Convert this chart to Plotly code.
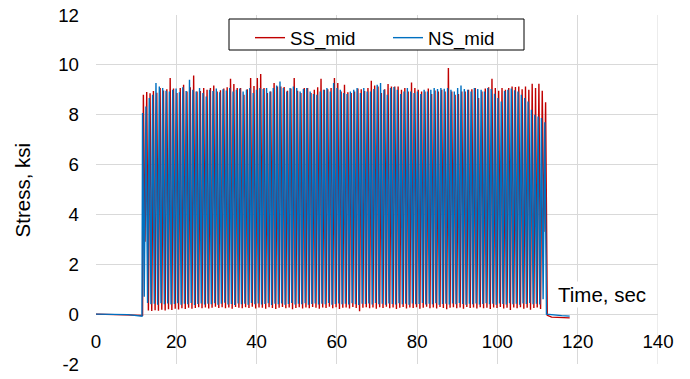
import numpy as np
import plotly.graph_objects as go

# Load-cycle record: peak and valley stress for each cycle (ksi)
period = 0.835          # s per load cycle
ss_start = 11.80        # s, first SS_mid peak
ns_start = 11.60        # s, first NS_mid peak

ss_peaks = [
    8.80, 8.91, 8.86, 8.95, 8.88, 9.07, 8.97, 9.02, 9.47, 9.05,
    8.87, 9.07, 9.20, 8.93, 9.10, 9.57, 8.93, 8.95, 9.07, 9.00,
    9.07, 9.17, 8.93, 8.98, 9.05, 9.10, 9.44, 9.23, 9.07, 9.07,
    8.80, 9.02, 9.47, 9.15, 9.47, 9.63, 9.07, 8.87, 8.93, 9.27,
    9.13, 9.13, 9.11, 8.96, 9.05, 9.47, 8.96, 8.87, 9.07, 9.07,
    8.87, 9.00, 9.10, 9.44, 9.00, 9.02, 9.07, 9.47, 9.27, 8.93,
    9.20, 8.90, 8.87, 8.93, 9.05, 9.02, 8.95, 9.07, 9.36, 9.17,
    9.13, 8.87, 9.02, 9.23, 9.13, 9.13, 9.13, 9.00, 9.07, 8.93,
    9.29, 9.07, 9.00, 8.93, 8.93, 9.05, 8.83, 8.97, 8.93, 9.00,
    8.93, 9.87, 8.93, 8.80, 8.83, 8.93, 8.93, 9.00, 9.02, 9.07,
    8.67, 8.93, 9.05, 9.10, 9.44, 9.07, 8.96, 9.07, 9.00, 9.07,
    9.13, 9.11, 9.13, 9.02, 9.13, 9.00, 9.24, 9.07, 9.24, 8.96,
    8.50,
]
ss_valleys = [
    2.90, 0.15, 0.13, 0.16, 0.14, 0.18, 0.15, 0.20, 0.17, 0.22,
    0.19, 0.24, 0.21, 0.26, 0.22, 0.25, 0.28, 0.24, 0.27, 0.23,
    0.26, 0.30, 0.25, 0.28, 0.24, 0.27, 0.22, 0.29, 0.26, 0.24,
    0.28, 0.25, 0.30, 0.23, 0.27, 0.26, 0.22, 0.28, 0.25, 0.21,
    0.26, 0.29, 0.24, 0.27, 0.20, 0.25, 0.28, 0.23, 0.27, 0.24,
    0.29, 0.26, 0.22, 0.27, 0.25, 0.30, 0.24, 0.28, 0.21, 0.26,
    0.27, 0.23, 0.29, 0.25, 0.12, 0.26, 0.28, 0.24, 0.27, 0.22,
    0.28, 0.25, 0.30, 0.24, 0.27, 0.21, 0.26, 0.29, 0.23, 0.27,
    0.25, 0.28, 0.22, 0.26, 0.30, 0.24, 0.27, 0.23, 0.29, 0.25,
    0.20, 0.26, 0.28, 0.24, 0.27, 0.22, 0.29, 0.25, 0.27, 0.23,
    0.28, 0.24, 0.26, 0.21, 0.27, 0.25, 0.29, 0.23, 0.26, 0.17,
    0.27, 0.24, 0.28, 0.22, 0.26, 0.18, 0.25, 0.27, 0.21, 3.30,
    -0.05,
]
ns_peaks = [
    8.07, 8.33, 8.67, 8.80, 9.27, 9.13, 9.07, 8.96, 8.93, 9.00,
    9.05, 8.90, 9.10, 8.95, 9.40, 9.00, 8.93, 9.07, 8.87, 8.73,
    9.00, 8.95, 9.05, 8.90, 9.02, 8.97, 9.07, 8.93, 9.00, 9.05,
    8.93, 9.00, 9.07, 8.87, 9.00, 9.07, 9.03, 9.07, 8.93, 9.07,
    9.17, 9.33, 9.07, 8.93, 9.07, 9.13, 9.07, 8.93, 9.03, 9.07,
    8.93, 8.83, 8.80, 8.93, 9.00, 9.07, 8.93, 9.27, 9.07, 9.00,
    8.87, 8.83, 8.93, 9.00, 9.07, 8.87, 9.07, 8.93, 8.93, 9.03,
    9.20, 9.27, 9.00, 8.80, 9.07, 9.11, 9.00, 8.83, 8.93, 9.07,
    8.93, 8.87, 8.93, 8.83, 9.00, 8.93, 9.00, 9.07, 9.03, 9.07,
    9.04, 9.07, 9.00, 8.93, 9.07, 9.17, 9.03, 9.00, 8.93, 9.07,
    9.03, 9.00, 8.93, 9.07, 9.03, 8.84, 8.67, 8.53, 8.95, 9.00,
    9.05, 8.98, 8.93, 8.80, 8.67, 8.53, 8.20, 8.00, 7.93, 7.87,
    7.70,
]
ns_valleys = [
    0.70, 0.45, 0.40, 0.42, 0.38, 0.44, 0.40, 0.43, 0.39, 0.41,
    0.44, 0.38, 0.42, 0.40, 0.45, 0.37, 0.41, 0.43, 0.39, 0.42,
    0.40, 0.44, 0.38, 0.42, 0.46, 0.39, 0.41, 0.37, 0.43, 0.40,
    0.42, 0.38, 0.45, 0.40, 0.43, 0.39, 0.41, 0.44, 0.37, 0.42,
    0.40, 0.43, 0.38, 0.41, 0.45, 0.39, 0.42, 0.40, 0.44, 0.38,
    0.41, 0.43, 0.39, 0.42, 0.40, 0.45, 0.38, 0.41, 0.43, 0.40,
    0.42, 0.39, 0.44, 0.40, 0.37, 0.42, 0.41, 0.43, 0.39, 0.45,
    0.40, 0.42, 0.38, 0.43, 0.41, 0.39, 0.44, 0.40, 0.42, 0.38,
    0.43, 0.40, 0.41, 0.45, 0.39, 0.42, 0.40, 0.44, 0.38, 0.41,
    0.42, 0.39, 0.43, 0.40, 0.45, 0.41, 0.38, 0.42, 0.40, 0.43,
    0.39, 0.41, 0.44, 0.40, 0.42, 0.38, 0.43, 0.41, 0.39, 0.44,
    0.40, 0.42, 0.38, 0.43, 0.41, 0.45, 0.40, 0.42, 0.39, 0.60,
    0.00,
]

# Quiet readings before and after loading
ss_pre_t, ss_pre_v = [0.0, 7.0, 11.6], [0.0, -0.03, -0.05]
ns_pre_t, ns_pre_v = [0.0, 8.0, 11.45], [0.0, -0.02, -0.08]
ss_post_t, ss_post_v = [113.5, 116.0, 118.0], [-0.12, -0.15, -0.15]
ns_post_t, ns_post_v = [113.5, 116.0, 118.0], [-0.03, -0.06, -0.08]

# Axis tick labels
x_ticks = [0, 20, 40, 60, 80, 100, 120, 140]
y_ticks = [-2, 0, 2, 4, 6, 8, 10, 12]
y_tick_text = ["-2", "0", "2", "4", "6", "8", "10", "12"]


def build(start, peaks, valleys, pre_t, pre_v, post_t, post_v):
    n = len(peaks)
    k = np.arange(n)
    t_cyc = np.empty(2 * n)
    v_cyc = np.empty(2 * n)
    t_cyc[0::2] = start + k * period
    t_cyc[1::2] = start + (k + 0.5) * period
    v_cyc[0::2] = peaks
    v_cyc[1::2] = valleys
    t = np.concatenate([pre_t, t_cyc, post_t])
    v = np.concatenate([pre_v, v_cyc, post_v])
    return t, v


ss_t, ss_v = build(ss_start, ss_peaks, ss_valleys, ss_pre_t, ss_pre_v, ss_post_t, ss_post_v)
ns_t, ns_v = build(ns_start, ns_peaks, ns_valleys, ns_pre_t, ns_pre_v, ns_post_t, ns_post_v)

RED = "#C00000"
BLUE = "#0070C0"
GRID = "#D9D9D9"
FONT = "Liberation Sans, Arial, sans-serif"
FS = 18.7
TITLE_FS = 20.5

fig = go.Figure()
fig.add_trace(go.Scatter(x=ss_t, y=ss_v, mode="lines", name="SS_mid",
                         line=dict(color=RED, width=1.4)))
fig.add_trace(go.Scatter(x=ns_t, y=ns_v, mode="lines", name="NS_mid",
                         line=dict(color=BLUE, width=1.4)))

# Legend frame (white box with black border)
fig.add_shape(type="rect", xref="paper", yref="paper",
              x0=(229 - 96) / 562, x1=(524 - 96) / 562,
              y0=(364 - 50) / 349, y1=(364 - 19) / 349,
              line=dict(color="black", width=1), fillcolor="white", layer="above")

fig.update_layout(
    width=690, height=379,
    margin=dict(l=96, r=32, t=15, b=15, autoexpand=False),
    paper_bgcolor="white", plot_bgcolor="white",
    font=dict(family=FONT, size=FS, color="black"),
    showlegend=True,
    legend=dict(
        orientation="h", x=(250 - 96) / 562, y=(364 - 19) / 349,
        xanchor="left", yanchor="top",
        bgcolor="rgba(0,0,0,0)", borderwidth=0,
        font=dict(family=FONT, size=FS, color="black"),
        itemwidth=30, traceorder="normal",
        entrywidth=93, entrywidthmode="pixels",
    ),
    xaxis=dict(
        range=[0, 140], tickvals=x_ticks,
        showgrid=True, gridcolor=GRID, gridwidth=1,
        zeroline=False, showline=False, ticks="",
        anchor="free", position=2 / 14, automargin=False,
        ticklabelstandoff=14,
        tickfont=dict(family=FONT, size=FS, color="black"),
    ),
    yaxis=dict(
        range=[-2, 12], tickvals=y_ticks, ticktext=y_tick_text,
        showgrid=True, gridcolor=GRID, gridwidth=1,
        zeroline=False, showline=False, ticks="", automargin=False,
        ticklabelstandoff=16,
        tickfont=dict(family=FONT, size=FS, color="black"),
    ),
    annotations=[
        dict(text="Stress, ksi", textangle=-90, xref="paper", yref="paper",
             x=-0.13, y=0.5, xanchor="center", yanchor="middle",
             showarrow=False, font=dict(family=FONT, size=TITLE_FS, color="black")),
        dict(text="Time, sec", xref="x", yref="y", x=126.0, y=0.8,
             xanchor="center", yanchor="middle", showarrow=False,
             bgcolor="white", font=dict(family=FONT, size=TITLE_FS, color="black")),
    ],
)

# Right edge of the plot area shown as a grid line
fig.add_shape(type="line", xref="x", yref="paper", x0=140, x1=140, y0=0, y1=1,
              line=dict(color=GRID, width=1), layer="below")

fig.write_html("out.html")
